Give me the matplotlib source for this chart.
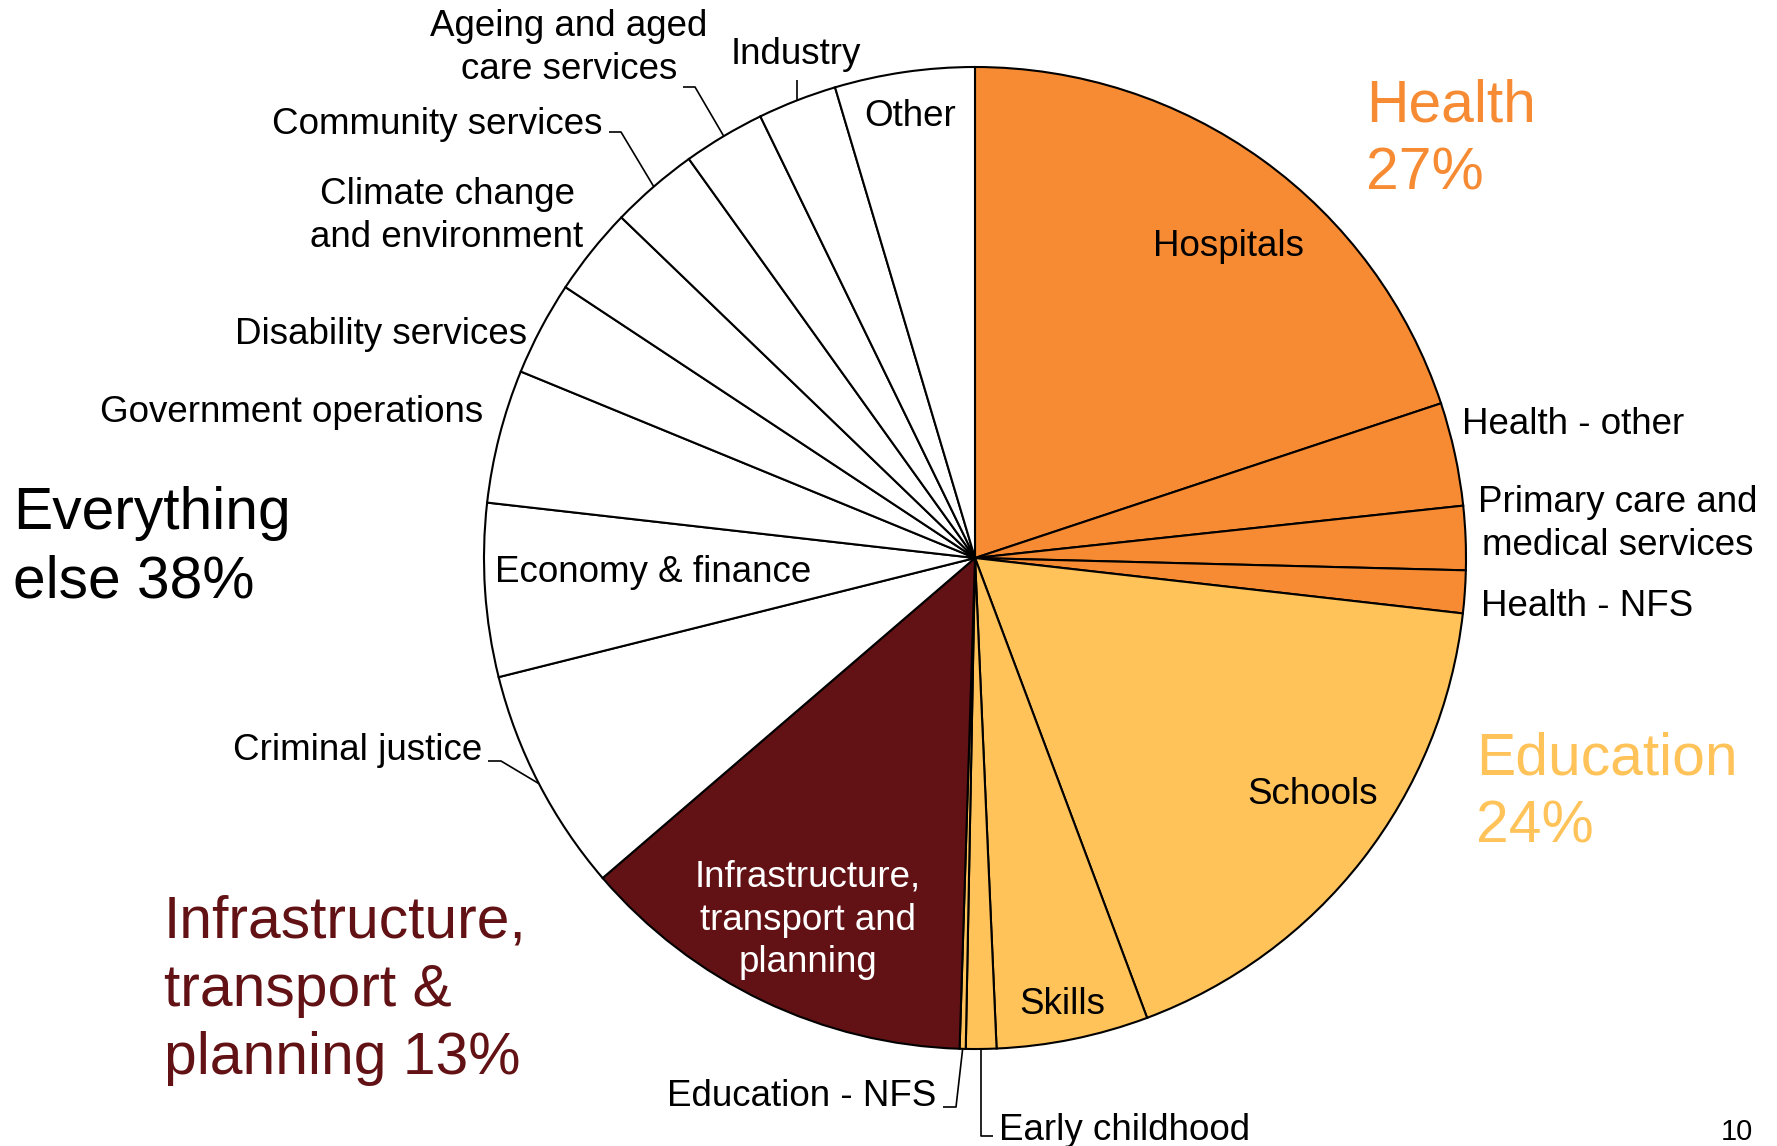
import matplotlib
matplotlib.use("Agg")
import matplotlib.pyplot as plt
import numpy as np

plt.rcParams['font.family'] = ['Liberation Sans', 'DejaVu Sans']

# ---- data (shares of spending, %) ----
categories = ["Hospitals", "Health - other", "Primary care and\nmedical services", "Health - NFS",
              "Schools", "Skills", "Early childhood", "Education - NFS",
              "Infrastructure,\ntransport and\nplanning",
              "Criminal justice", "Economy & finance", "Government operations",
              "Disability services", "Climate change\nand environment", "Community services",
              "Ageing and aged\ncare services", "Industry", "Other"]
shares = [19.9, 3.4, 2.1, 1.4,
          17.5, 5.0, 1.0, 0.2,
          13.2,
          7.4, 5.7, 4.4, 3.1, 2.9, 2.9, 2.7, 2.6, 4.6]
groups = ["Health"] * 4 + ["Education"] * 4 + ["Infrastructure"] + ["Other"] * 9
group_colors = {"Health": "#F68B33", "Education": "#FFC35A",
                "Infrastructure": "#621214", "Other": "#FFFFFF"}
group_titles = ["Health\n27%", "Education\n24%", "Infrastructure,\ntransport &\nplanning 13%",
                "Everything\nelse 38%"]
page_number = "10"

W, H = 1777, 1146
CX, CY, R = 975, H - 558, 491
FS = 26.5
BIG = 42.3
DY = 3  # small vertical text offset

fig = plt.figure(figsize=(W / 100, H / 100), dpi=100)
ax = fig.add_axes([0, 0, 1, 1])
colors = [group_colors[g] for g in groups]
ax.pie(shares, colors=colors, startangle=90, counterclock=False,
       center=(CX, CY), radius=R,
       wedgeprops=dict(edgecolor="black", linewidth=1.5))
ax.set_xlim(0, W)
ax.set_ylim(0, H)
ax.set_aspect("equal")
ax.axis("off")

# mid-angles (compass, clockwise from top)
cum = np.cumsum([0] + shares)
tot = cum[-1]
mid = {categories[i]: (cum[i] + cum[i + 1]) / 2 / tot * 360 for i in range(len(shares))}


def arc_pt(cat):
    a = np.deg2rad(mid[cat])
    return CX + R * np.sin(a), CY + R * np.cos(a)


def T(x, y, s, **kw):
    kw.setdefault("fontsize", FS)
    kw.setdefault("color", "black")
    kw.setdefault("va", "center")
    kw.setdefault("linespacing", 1.28)
    ax.text(x, H - (y + DY), s, **kw)


def leader(cat, pts):
    x0, y0 = arc_pt(cat)
    xs = [x0] + [p[0] for p in pts]
    ys = [y0] + [H - p[1] for p in pts]
    ax.plot(xs, ys, color="black", lw=1.2, solid_capstyle="butt")


# in-slice / near labels
T(1228, 244, categories[0], ha="center")
T(1462, 422, categories[1], ha="left")
T(1618, 521, categories[2], ha="center")
T(1481, 603, categories[3], ha="left")
T(1313, 792, categories[4], ha="center")
T(1062, 1002, categories[5], ha="center")
T(999, 1128, categories[6], ha="left")
leader(categories[6], [(arc_pt(categories[6])[0], 1136), (993, 1136)])
T(936, 1094, categories[7], ha="right")
leader(categories[7], [(956, 1107), (943, 1107)])
T(808, 917, categories[8], ha="center", color="white")
T(482, 748, categories[9], ha="right")
leader(categories[9], [(501, 761), (488, 761)])
T(495, 570, categories[10], ha="left")
T(483, 409, categories[11], ha="right")
T(527, 331, categories[12], ha="right")
T(447, 213, categories[13], ha="center")
T(603, 121, categories[14], ha="right")
leader(categories[14], [(621, 132), (609, 132)])
T(569, 45, categories[15], ha="center")
leader(categories[15], [(695, 87), (683, 87)])
T(796, 51, categories[16], ha="center")
leader(categories[16], [(arc_pt(categories[16])[0], 80)])
T(910, 113, categories[17], ha="center")

# group titles
T(1366, 137, group_titles[0], ha="left", fontsize=BIG, color=group_colors["Health"], linespacing=1.31)
T(1476, 790, group_titles[1], ha="left", fontsize=BIG, color=group_colors["Education"], linespacing=1.31)
T(164, 987, group_titles[2], ha="left", fontsize=BIG, color=group_colors["Infrastructure"], linespacing=1.31)
T(13, 545, group_titles[3], ha="left", fontsize=BIG, color="black", linespacing=1.31)

T(1737, 1129, page_number, ha="center", fontsize=21)

fig.savefig("out.png", dpi=100, facecolor="white")
